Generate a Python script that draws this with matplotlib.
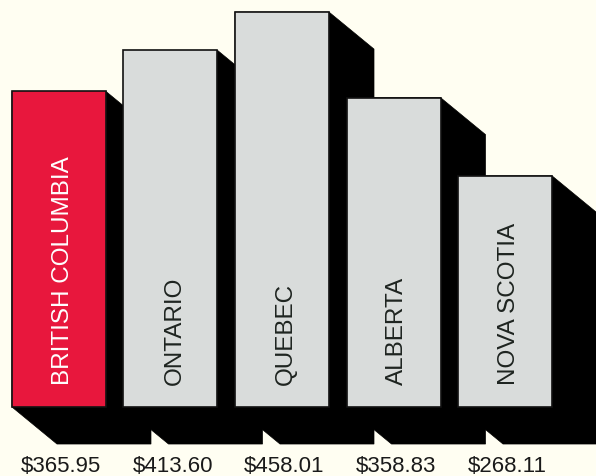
"""Average weekly earnings by province - extruded bar chart."""
import matplotlib
matplotlib.use("Agg")
import matplotlib.pyplot as plt
from matplotlib.patches import Polygon

provinces = ["BRITISH COLUMBIA", "ONTARIO", "QUEBEC", "ALBERTA", "NOVA SCOTIA"]
earnings = [365.95, 413.60, 458.01, 358.83, 268.11]
value_labels = ["$365.95", "$413.60", "$458.01", "$358.83", "$268.11"]
highlight = "BRITISH COLUMBIA"

BG = "#fffef2"
GREY = "#d9dcdb"
RED = "#e8173d"

W, H = 596, 476
XLIM = (-0.529, 4.816)
YLIM = (-80.0, 472.0)
BAR_W = 0.843

fig = plt.figure(figsize=(W / 100, H / 100), dpi=100, facecolor=BG)
ax = fig.add_axes([0, 0, 1, 1])
ax.set_xlim(*XLIM)
ax.set_ylim(*YLIM)
ax.axis("off")

# shadow offset given in pixels, converted to data units
px_x = (XLIM[1] - XLIM[0]) / W
px_y = (YLIM[1] - YLIM[0]) / H
dx = 45 * px_x
dy = 37 * px_y

for i, v in enumerate(earnings):
    x0, x1 = i - BAR_W / 2, i + BAR_W / 2
    pts = [(x0, v), (x1, v), (x1 + dx, v - dy), (x1 + dx, -dy),
           (x0 + dx, -dy), (x0, 0)]
    ax.add_patch(Polygon(pts, closed=True, facecolor="black",
                         edgecolor="black", lw=0.5, zorder=1))

colors = [RED if p == highlight else GREY for p in provinces]
ax.bar(range(len(provinces)), earnings, width=BAR_W, color=colors,
       edgecolor="#111111", linewidth=1.2, zorder=2)

for i, (name, v) in enumerate(zip(provinces, earnings)):
    tc = "white" if name == highlight else "#1e2420"
    ax.text(i + 0.035, 25, name, rotation=90, ha="center", va="bottom",
            fontsize=17.5, color=tc, zorder=3,
            family=["Liberation Sans Narrow", "Liberation Sans", "DejaVu Sans"])
    ax.text(i + 0.02, -75, value_labels[i], ha="center", va="baseline",
            fontsize=16, color="#1a1a1a", zorder=3,
            family=["Liberation Sans", "DejaVu Sans"])

fig.savefig("out.png", dpi=100, facecolor=BG)
